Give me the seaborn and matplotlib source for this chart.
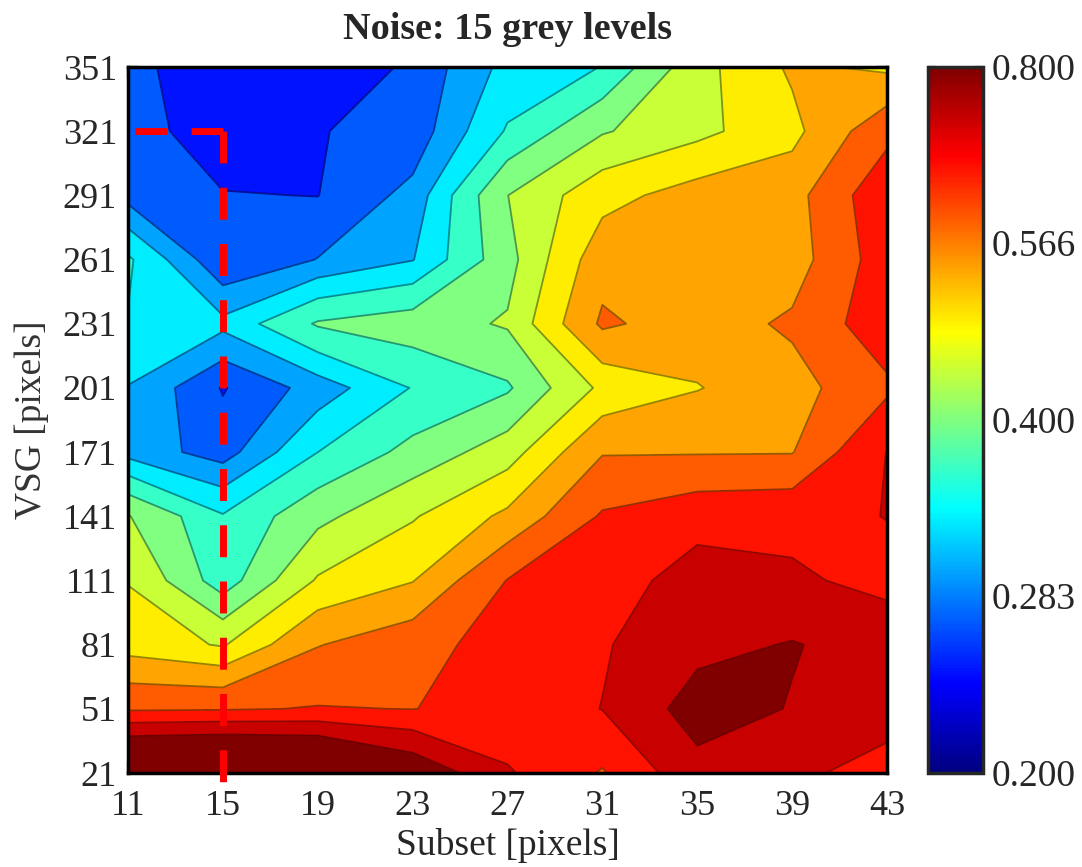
import numpy as np
import matplotlib
matplotlib.use("Agg")
import matplotlib.pyplot as plt
import seaborn as sns
from matplotlib.colors import LogNorm, ListedColormap
from matplotlib.cm import ScalarMappable
from matplotlib.ticker import FixedLocator, NullLocator

# ---------------- data ----------------
subset = [11, 15, 19, 23, 27, 31, 35, 39, 43]
vsg = [21, 51, 81, 111, 141, 171, 201, 231, 261, 291, 321, 351]

# rows of the grid (one row per VSG value, columns follow `subset`)
vsg_021 = [0.9109, 0.9293, 0.9017, 0.7849, 0.6631, 0.5888, 0.7021, 0.6700, 0.6315]
vsg_051 = [0.5860, 0.5888, 0.5975, 0.5933, 0.6130, 0.6577, 0.7548, 0.7212, 0.6836]
vsg_081 = [0.4669, 0.4374, 0.5359, 0.5720, 0.6192, 0.6501, 0.7055, 0.7284, 0.6973]
vsg_111 = [0.4395, 0.3418, 0.4462, 0.4853, 0.5963, 0.6223, 0.6870, 0.6665, 0.6377]
vsg_141 = [0.4021, 0.3308, 0.3887, 0.4374, 0.4978, 0.6006, 0.6315, 0.6377, 0.6577]
vsg_171 = [0.2860, 0.2565, 0.3280, 0.3736, 0.4208, 0.5348, 0.5348, 0.5359, 0.6577]
vsg_201 = [0.2958, 0.2420, 0.2804, 0.3298, 0.3572, 0.4508, 0.4853, 0.5181, 0.5832]
vsg_231 = [0.3266, 0.3049, 0.3661, 0.3812, 0.4042, 0.5468, 0.5130, 0.5468, 0.6315]
vsg_261 = [0.3332, 0.2451, 0.2700, 0.2958, 0.3849, 0.5181, 0.5079, 0.5130, 0.6254]
vsg_291 = [0.2590, 0.2451, 0.2433, 0.2776, 0.3995, 0.4715, 0.5079, 0.5181, 0.6377]
vsg_321 = [0.2565, 0.2277, 0.2427, 0.2514, 0.3315, 0.3962, 0.4291, 0.4738, 0.5776]
vsg_351 = [0.2519, 0.2254, 0.2277, 0.2476, 0.3065, 0.3290, 0.4250, 0.4952, 0.4784]

level_min, level_max, n_levels = 0.2, 0.8, 15
cbar_ticks = [0.200, 0.283, 0.400, 0.566, 0.800]
cbar_labels = ["0.200", "0.283", "0.400", "0.566", "0.800"]

marker_subset = 15
marker_vsg = 321

title = "Noise: 15 grey levels"
xlabel = "Subset [pixels]"
ylabel = "VSG [pixels]"

# ---------------- style ----------------
sns.set_theme(style="ticks")
plt.rcParams["font.family"] = ["Liberation Serif", "DejaVu Serif"]


def matlab_jet(t):
    t = np.asarray(t, dtype=float)
    r = np.clip(1.5 - np.abs(4 * t - 3), 0, 1)
    g = np.clip(1.5 - np.abs(4 * t - 2), 0, 1)
    b = np.clip(1.5 - np.abs(4 * t - 1), 0, 1)
    return np.stack([r, g, b], axis=-1)


jet = ListedColormap(matlab_jet(np.linspace(0, 1, 256)), name="mjet")

Z = np.array([vsg_021, vsg_051, vsg_081, vsg_111, vsg_141, vsg_171,
              vsg_201, vsg_231, vsg_261, vsg_291, vsg_321, vsg_351])

levels = np.geomspace(level_min, level_max, n_levels)
n_bands = n_levels - 1
fill_levels = list(levels[:n_bands]) + [max(Z.max() * 1.5, 2.0)]
fill_colors = [tuple(matlab_jet((k + 1) / n_bands)) for k in range(n_bands)]
line_colors = [tuple(0.55 * np.array(c)) for c in fill_colors[:-1]]

fig = plt.figure(figsize=(10.82, 8.67), dpi=100)
ax = fig.add_axes([128 / 1082, 1 - 773 / 867, (887 - 128) / 1082, (773 - 67) / 867])

ax.contourf(subset, vsg, Z, levels=fill_levels, colors=fill_colors)
ax.contour(subset, vsg, Z, levels=levels[1:n_bands], colors=line_colors,
           linewidths=1.3, alpha=0.9)

# red dashed marker
dash = (0, (4.6, 3.5))
ax.plot([marker_subset, marker_subset], [marker_vsg, 16.8], color="red", lw=5,
        linestyle=dash, clip_on=False, dash_capstyle="butt", zorder=5)
ax.plot([marker_subset, 11.2], [marker_vsg, marker_vsg], color="red", lw=5,
        linestyle=dash, clip_on=False, dash_capstyle="butt", zorder=5)

ax.set_xlim(subset[0], subset[-1])
ax.set_ylim(vsg[0], vsg[-1])
ax.set_xticks(subset)
ax.set_yticks(vsg)
ax.set_xticklabels([str(v) for v in subset])
ax.set_yticklabels([str(v) for v in vsg])
ax.xaxis.set_minor_locator(FixedLocator(np.arange(subset[0], subset[-1] + 0.01, 0.8)))
ax.yaxis.set_minor_locator(FixedLocator(np.arange(vsg[0], vsg[-1] + 1, 15)))
ax.tick_params(which="both", direction="in", top=True, right=True,
               width=1.6, color="black")
ax.tick_params(which="major", length=8)
ax.tick_params(which="minor", length=5)
ax.tick_params(axis="x", which="major", labelsize=26, pad=12)
ax.tick_params(axis="y", which="major", labelsize=26, pad=8)
for s in ax.spines.values():
    s.set_linewidth(2.5)
    s.set_color("black")

ax.set_title(title, fontsize=27.5, fontweight="bold", pad=20)
ax.set_xlabel(xlabel, fontsize=27, labelpad=4)
ax.set_ylabel(ylabel, fontsize=27, labelpad=10, color="#333333")

# colorbar (continuous, log-scaled)
cax = fig.add_axes([928 / 1082, 1 - 773 / 867, (983 - 928) / 1082, (773 - 67) / 867])
sm = ScalarMappable(norm=LogNorm(vmin=level_min, vmax=level_max), cmap=jet)
cb = fig.colorbar(sm, cax=cax)
cb.set_ticks(cbar_ticks)
cb.set_ticklabels(cbar_labels)
cax.yaxis.set_minor_locator(NullLocator())
cax.tick_params(which="major", direction="in", left=True, right=True,
                length=6, width=1.6, labelsize=27, pad=6)
cb.outline.set_linewidth(2.5)

fig.savefig("out.png", dpi=100)
